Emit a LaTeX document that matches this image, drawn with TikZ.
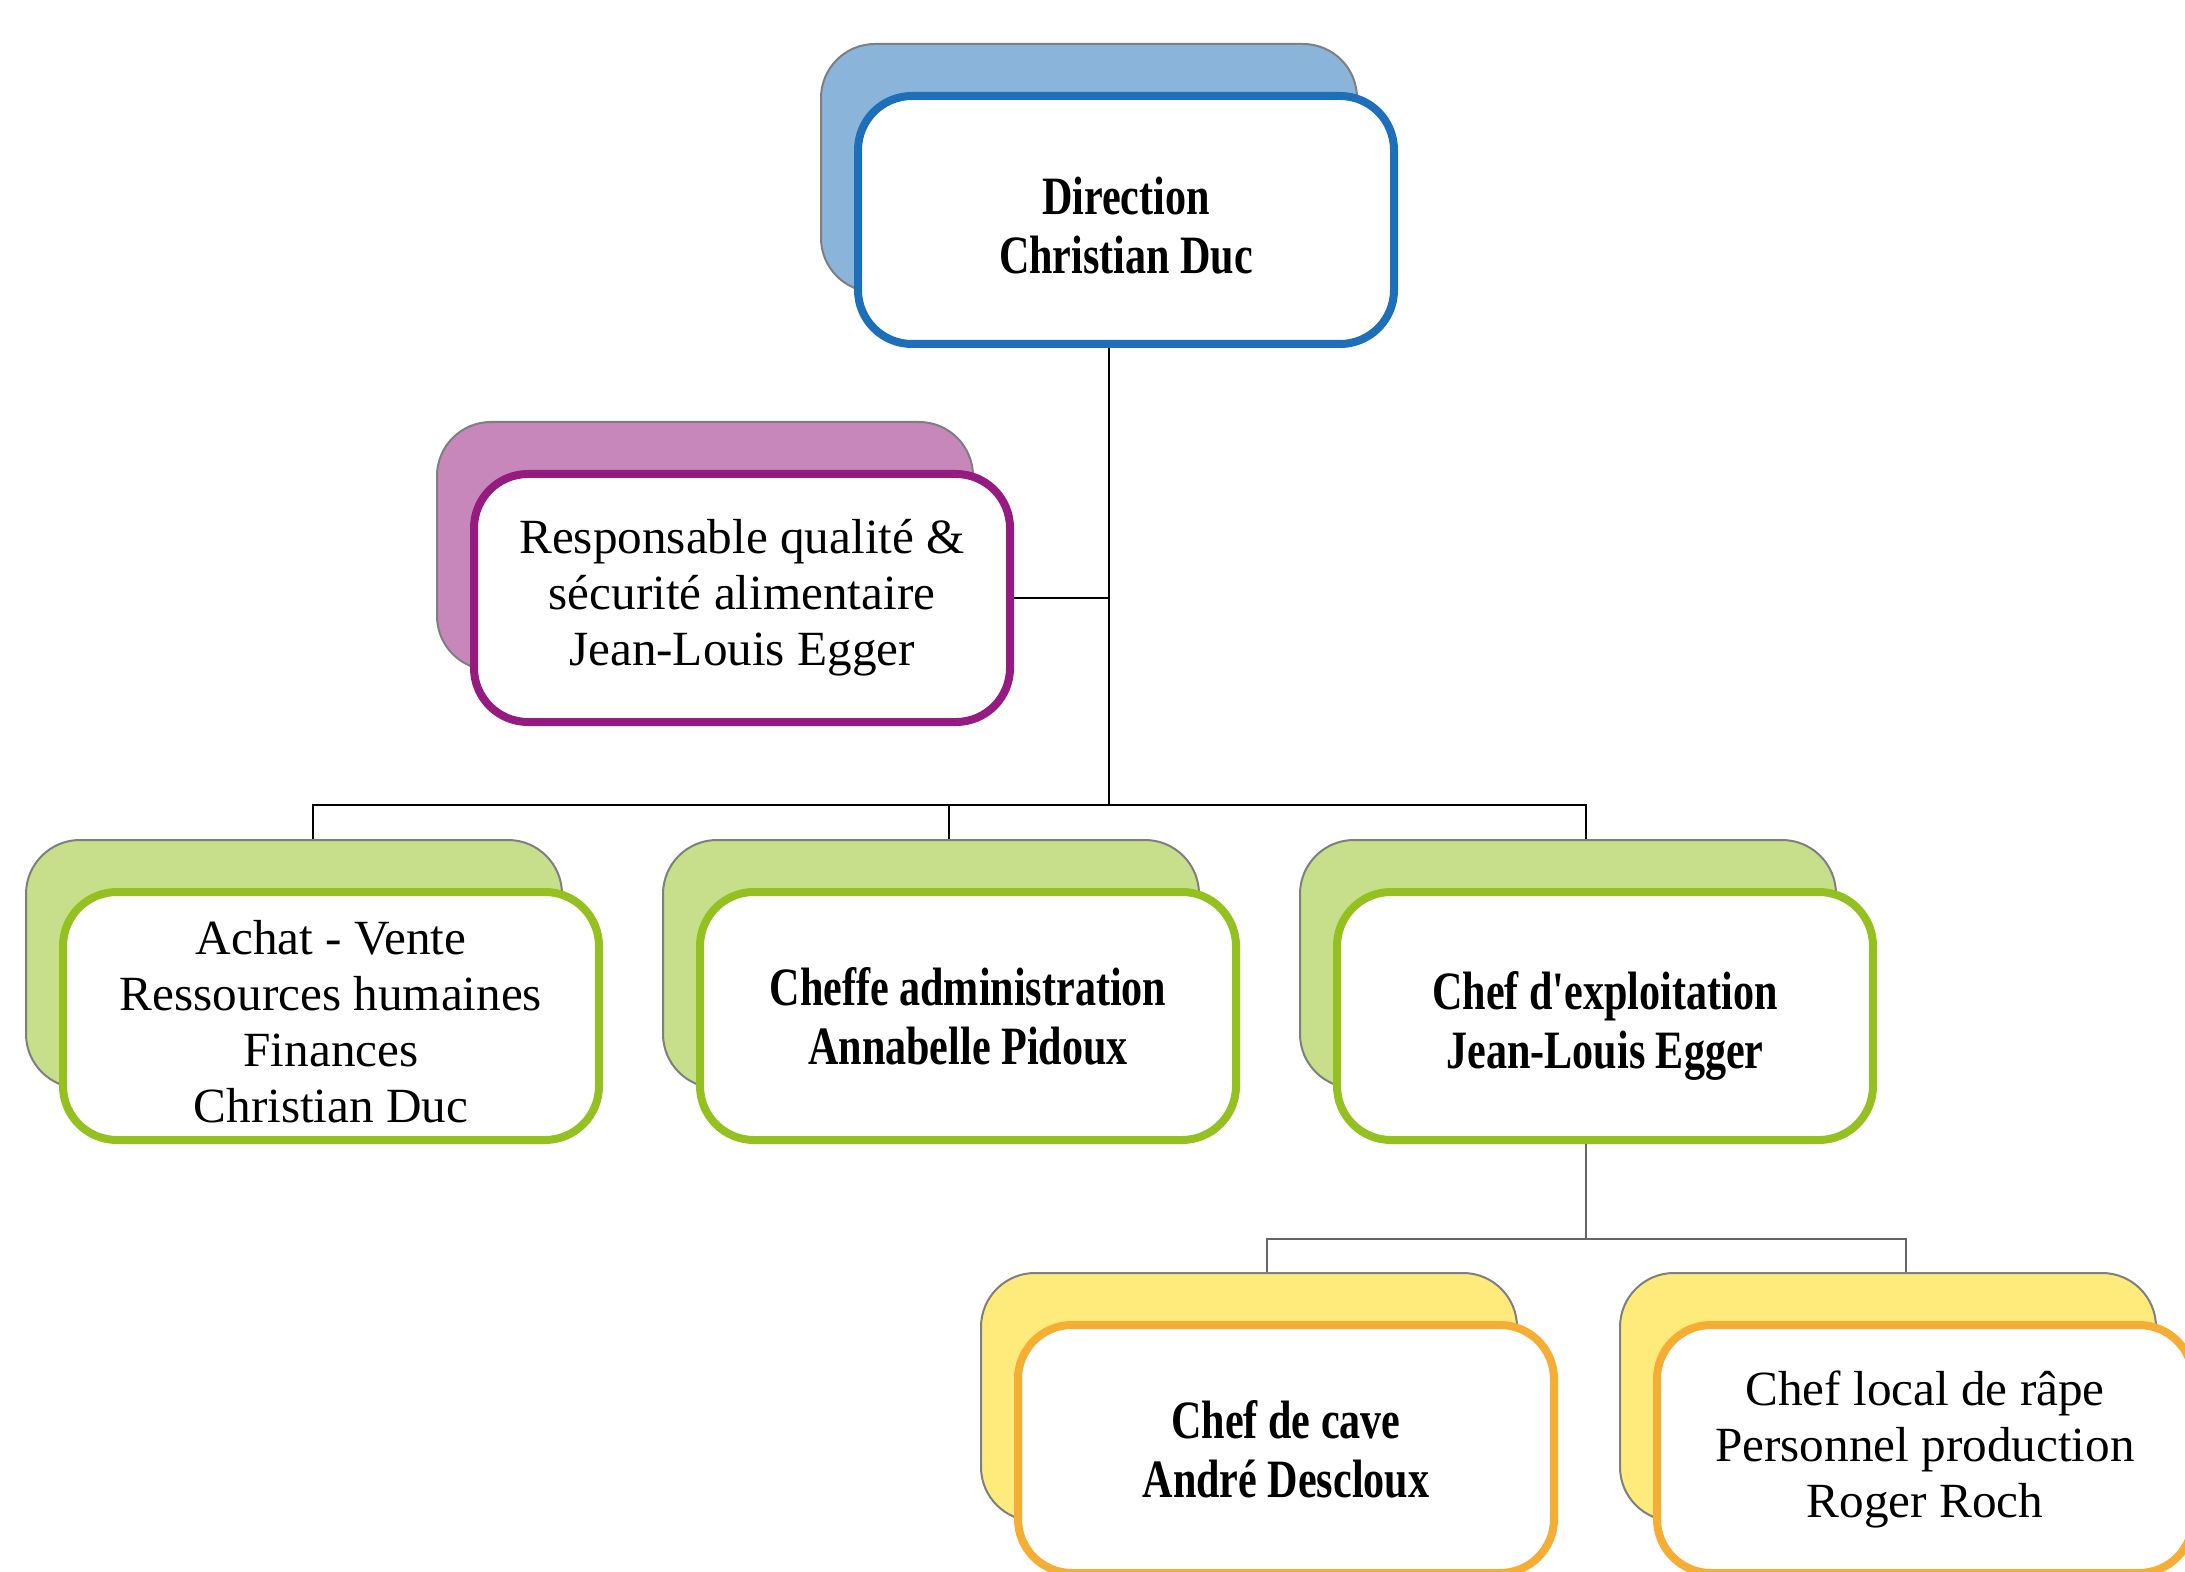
\documentclass[tikz,border=0pt]{standalone}
\usepackage{fontspec}
\setmainfont{Liberation Serif}
\newfontfamily\condfont[FakeStretch=0.78]{Liberation Serif}
\usetikzlibrary{calc}
\definecolor{blueB}{HTML}{8AB4DA}
\definecolor{blueF}{HTML}{1E6FB9}
\definecolor{purpleB}{HTML}{C787BB}
\definecolor{purpleF}{HTML}{951B81}
\definecolor{greenB}{HTML}{C7DF8B}
\definecolor{greenF}{HTML}{94C11F}
\definecolor{yellowB}{HTML}{FFEB7B}
\definecolor{yellowF}{HTML}{F6AD33}
\definecolor{backline}{HTML}{7F7F7F}
\tikzset{
  backbox/.style={rectangle, rounded corners=27pt, minimum width=268pt, minimum height=124pt,
    draw=backline, line width=1pt, fill=#1},
  frontbox/.style={rectangle, rounded corners=27pt, minimum width=268pt, minimum height=124pt,
    draw=#1, line width=4pt, fill=white, align=center, inner sep=0pt},
  serif/.style={font=\fontsize{24.6}{28}\selectfont, align=center},
  cond/.style={font=\condfont\bfseries\fontsize{27}{29.5}\selectfont, align=center},
  conn/.style={draw=black, line width=1pt},
  conng/.style={draw=black!60, line width=1.2pt},
}
\begin{document}
\begin{tikzpicture}[x=0.5pt, y=-0.5pt]
\useasboundingbox (0,0) rectangle (2185,1572);
\clip (0,0) rectangle (2185,1572);
\fill[white] (0,0) rectangle (2185,1572);

% connector coordinates
\coordinate (bus) at (1109,805);
\coordinate (dA) at (313,805);
\coordinate (dC) at (949,805);
\coordinate (dE) at (1586,805);
\coordinate (bus2) at (1586,1239);
\coordinate (dV) at (1267,1239);
\coordinate (dL) at (1906,1239);

% back boxes
\node[backbox=blueB]   (dirB)     at (1089,168) {};
\node[backbox=purpleB] (respB)    at (705,546)  {};
\node[backbox=greenB]  (achatB)   at (294,964)  {};
\node[backbox=greenB]  (cheffeB)  at (931,964)  {};
\node[backbox=greenB]  (exploitB) at (1568,964) {};
\node[backbox=yellowB] (caveB)    at (1249,1397) {};
\node[backbox=yellowB] (localB)   at (1888,1397) {};

% connectors
\draw[conn] (dirB.south -| bus) -- (bus);
\draw[conn] (dA |- achatB.north) -- (dA) -- (dE) -- (dE |- exploitB.north);
\draw[conn] (dC) -- (dC |- cheffeB.north);
\draw[conng] (dV |- caveB.north) -- (dV) -- (dL) -- (dL |- localB.north);
\draw[conng] (bus2) -- (1586,1100);

% front boxes
\node[frontbox=blueF] (dir) at (1126,220) {};
\node[cond] (dirT) at (1126,226) {Direction\\Christian Duc};
\node[frontbox=purpleF, serif] (resp) at (742,598) {Responsable qualité \&\\sécurité alimentaire\\Jean-Louis Egger};
\node[frontbox=greenF] (achat) at (331,1016) {};
\node[serif] (achatT) at (331,1022) {Achat - Vente\\Ressources humaines\\Finances\\Christian Duc};
\node[frontbox=greenF, cond] (cheffe) at (968,1016) {Cheffe administration\\Annabelle Pidoux};
\node[frontbox=greenF] (exploit) at (1605,1016) {};
\node[cond] (exploitT) at (1605,1026) {Chef d'exploitation\\Jean-Louis Egger};
\node[frontbox=yellowF, cond] (cave) at (1286,1449) {Chef de cave\\André Descloux};
\node[frontbox=yellowF, serif] (local) at (1925,1449) {Chef local de râpe\\Personnel production\\Roger Roch};

% remaining connectors attached to front boxes
\draw[conn] (resp.east) -- (resp.east -| bus);
\draw[conng] (exploit.south -| bus2) -- (bus2);
\end{tikzpicture}
\end{document}
